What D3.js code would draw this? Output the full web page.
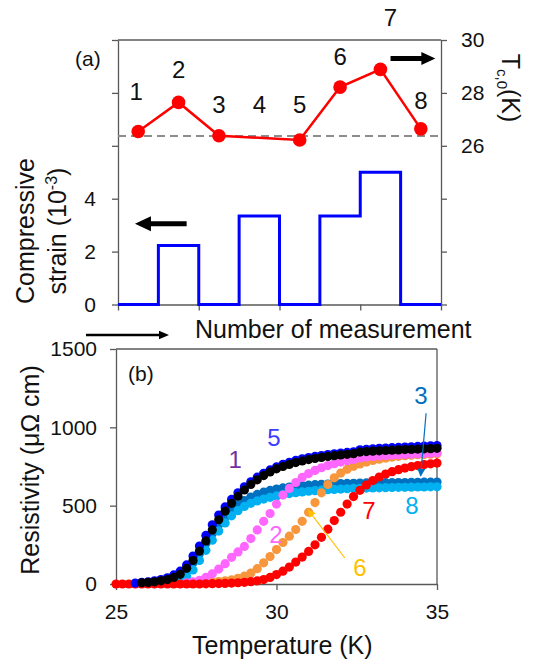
<!DOCTYPE html>
<html>
<head>
<meta charset="utf-8">
<script src="https://cdn.jsdelivr.net/npm/d3@7"></script>
<style>
  body { margin: 0; background: #fff; }
  svg { display: block; font-family: "Liberation Sans", Arial, sans-serif; }
</style>
</head>
<body>
<svg id="chart" width="533" height="666"></svg>
<script>
// ---------- Panel (a): strain steps and Tc,0 per measurement ----------
const measurements = [1, 2, 3, 4, 5, 6, 7, 8];
const strain = [0, 2.23, 0, 3.35, 0, 3.35, 5.0, 0];            // compressive strain (10^-3)
const tc0 = [26.54, 27.64, 26.38, null, 26.22, 28.22, 28.89, 26.64]; // Tc,0 (K)
const tcReference = 26.37;                                      // dashed reference level
const strainTicks = [0, 2, 4, 6, 8, 10];
const strainTickLabels = [0, 2, 4];
const tcTicks = [20, 22, 24, 26, 28, 30];
const tcTickLabels = [26, 28, 30];
const measurementTicks = [0, 2, 4, 6, 8];

// ---------- Panel (b): resistivity vs temperature ----------
const temperatures = [25.0, 25.2, 25.4, 25.6, 25.8, 26.0, 26.2, 26.4, 26.6, 26.8,
  27.0, 27.2, 27.4, 27.6, 27.8, 28.0, 28.2, 28.4, 28.6, 28.8,
  29.0, 29.2, 29.4, 29.6, 29.8, 30.0, 30.2, 30.4, 30.6, 30.8,
  31.0, 31.2, 31.4, 31.6, 31.8, 32.0, 32.2, 32.4, 32.6, 32.8,
  33.0, 33.2, 33.4, 33.6, 33.8, 34.0, 34.2, 34.4, 34.6, 34.8, 35.0];

const rho3 = [null, null, null, null, null, null,
  4, 8, 15, 28, 50, 85, 135, 195, 260, 322,
  378, 428, 470, 505, 533, 555, 572, 586, 597, 606,
  613, 619, 624, 628, 631, 634, 636, 638, 640, 641,
  642, 643, 644, 645, 646, 646, 647, 647, 648, 648,
  649, 649, 650, 650, 651];
const rho8 = [null, null, null, null, null, null,
  3, 5, 8, 14, 26, 50, 90, 150, 215, 280,
  338, 390, 435, 468, 495, 515, 530, 542, 553, 562,
  570, 577, 583, 588, 592, 596, 599, 602, 604, 606,
  608, 610, 611, 612, 613, 614, 615, 616, 617, 617,
  618, 619, 619, 620, 620];
const rho6 = [null, null, null, null, null, null, null, null, null, null, null, null,
  4, 6, 9, 12, 16, 20, 26, 36, 50, 70,
  98, 135, 175, 220, 265, 305, 348, 400, 458, 520,
  582, 635, 678, 708, 732, 751, 766, 778, 789, 797,
  804, 810, 815, 819, 822, 825, 827, 829, 831];
const rho2 = [null, null, null, null, null, null, null, null, null, null, null,
  8, 14, 24, 42, 65, 95, 130, 170, 205, 240,
  290, 345, 400, 450, 510, 568, 610, 648, 680, 705,
  725, 742, 756, 768, 778, 787, 795, 805, 810, 814,
  817, 820, 823, 825, 827, 829, 831, 833, 835, 837];
const rho7 = [0, 0, 0, 0, 0, 0, 0, 0, 0, 0, 0, 0, 0, 0,
  1, 2, 3, 4, 6, 8, 11, 15, 20, 28,
  42, 60, 82, 108, 140, 172, 208, 250, 298, 350,
  405, 458, 510, 558, 598, 632, 660, 683, 702, 717,
  730, 740, 749, 756, 762, 767, 772];
const rho5 = [null, null, null,
  6, 10, 14, 20, 28, 40, 58, 82, 122, 178,
  242, 310, 378, 440, 492, 540, 582, 620, 652, 682,
  707, 728, 747, 763, 777, 789, 799, 807, 814, 820,
  826, 831, 836, 840, 844, 857, 860, 863, 866, 868,
  870, 872, 874, 876, 878, 880, 882, 884];
const rho1 = [null, null, null, null,
  8, 10, 14, 20, 28, 42, 62, 100, 150, 210,
  275, 345, 410, 465, 515, 560, 600, 635, 665, 692,
  715, 735, 750, 763, 775, 785, 794, 801, 808, 814,
  819, 824, 828, 832, 842, 845, 848, 850, 852, 854,
  856, 858, 859, 861, 863, 864, 866];

// drawing order: back to front
const curves = [
  { id: "3", values: rho3, color: "#0070c0" },
  { id: "8", values: rho8, color: "#00b0f0" },
  { id: "6", values: rho6, color: "#f7963c" },
  { id: "2", values: rho2, color: "#ff66ff" },
  { id: "7", values: rho7, color: "#ff0000" },
  { id: "5", values: rho5, color: "#0000ff" },
  { id: "1", values: rho1, color: "#000000" }
];
const rhoTicks = [0, 500, 1000, 1500];
const tempTicks = [25, 30, 35];

// curve labels placed in data coordinates (T, rho)
const curveLabels = [
  { text: "1", T: 28.71, rho: 792, color: "#7030a0" },
  { text: "5", T: 29.92, rho: 932, color: "#3d3dff" },
  { text: "2", T: 29.98, rho: 313, color: "#ff66ff" },
  { text: "6", T: 32.60, rho: 108, color: "#ffc000" },
  { text: "7", T: 32.88, rho: 472, color: "#ff0000" },
  { text: "8", T: 34.22, rho: 504, color: "#00b0f0" },
  { text: "3", T: 34.50, rho: 1206, color: "#0070c0" }
];
const pointerArrows = [
  { from: [32.13, 166], to: [30.99, 472], color: "#ffc000" },
  { from: [34.66, 1090], to: [34.49, 690], color: "#0070c0" }
];

// ---------- drawing ----------
const svg = d3.select("#chart");
const axisColor = "#595959";
const textColor = "#111";

function styleAxis(g, fontSize) {
  g.selectAll(".domain").attr("stroke", axisColor).attr("stroke-width", 1.3);
  g.selectAll(".tick line").attr("stroke", axisColor).attr("stroke-width", 1.3);
  g.selectAll(".tick text").attr("fill", textColor).attr("font-size", fontSize)
    .attr("font-family", '"Liberation Sans", Arial, sans-serif');
}

function blockArrow(g, x1, x2, y, shaft, headLen, headH, color) {
  // horizontal arrow from x1 (tail) to x2 (tip)
  const dir = Math.sign(x2 - x1);
  const xb = x2 - dir * headLen;
  const p = d3.path();
  p.moveTo(x1, y - shaft / 2);
  p.lineTo(xb, y - shaft / 2);
  p.lineTo(xb, y - headH / 2);
  p.lineTo(x2, y);
  p.lineTo(xb, y + headH / 2);
  p.lineTo(xb, y + shaft / 2);
  p.lineTo(x1, y + shaft / 2);
  p.closePath();
  g.append("path").attr("d", p.toString()).attr("fill", color);
}

// ===== Panel (a) =====
const A = { left: 118, right: 441, top: 40, bottom: 304.5 };
const xA = d3.scaleLinear().domain([0, measurements.length]).range([A.left, A.right]);
const yStrain = d3.scaleLinear().domain([0, 10]).range([A.bottom, A.top]);
const yTc = d3.scaleLinear().domain([20, 30]).range([A.bottom, A.top]);
const gA = svg.append("g");

// frame top
gA.append("line").attr("x1", A.left).attr("x2", A.right).attr("y1", A.top).attr("y2", A.top)
  .attr("stroke", axisColor).attr("stroke-width", 1.3);

gA.append("g").attr("transform", `translate(0,${A.bottom})`)
  .call(d3.axisBottom(xA).tickValues(measurementTicks).tickFormat("").tickSize(6).tickSizeOuter(0))
  .call(g => styleAxis(g, 21));
gA.append("g").attr("transform", `translate(${A.left},0)`)
  .call(d3.axisLeft(yStrain).tickValues(strainTicks)
    .tickFormat(d => strainTickLabels.includes(d) ? d : "").tickSize(6).tickSizeOuter(0).tickPadding(16))
  .call(g => styleAxis(g, 21));
gA.append("g").attr("transform", `translate(${A.right},0)`)
  .call(d3.axisRight(yTc).tickValues(tcTicks)
    .tickFormat(d => tcTickLabels.includes(d) ? d : "").tickSize(6).tickSizeOuter(0).tickPadding(14))
  .call(g => styleAxis(g, 21));

// dashed reference level
gA.append("line")
  .attr("x1", A.left).attr("x2", A.right)
  .attr("y1", yTc(tcReference)).attr("y2", yTc(tcReference))
  .attr("stroke", "#8c8c8c").attr("stroke-width", 2).attr("stroke-dasharray", "8,5");

// strain step line
const stepPoints = strain.map((s, i) => [i, s]).concat([[strain.length, strain[strain.length - 1]]]);
gA.append("path")
  .attr("d", d3.line().x(d => xA(d[0])).y(d => yStrain(d[1])).curve(d3.curveStepAfter)(stepPoints))
  .attr("fill", "none").attr("stroke", "#0000ff").attr("stroke-width", 3);

// Tc,0 line and markers
const tcPoints = tc0.map((v, i) => ({ i, v })).filter(d => d.v !== null);
gA.append("path")
  .attr("d", d3.line().x(d => xA(d.i + 0.5)).y(d => yTc(d.v))(tcPoints))
  .attr("fill", "none").attr("stroke", "#ff0000").attr("stroke-width", 2.5);
gA.selectAll("circle.tc").data(tcPoints).join("circle")
  .attr("class", "tc")
  .attr("cx", d => xA(d.i + 0.5)).attr("cy", d => yTc(d.v)).attr("r", 6.8)
  .attr("fill", "#ff0000");

// measurement numbers (baselines in px)
const numberBaselines = [100, 78, 113, 113, 113, 65, 26, 109];
gA.selectAll("text.num").data(measurements).join("text")
  .attr("class", "num")
  .attr("x", (d, i) => xA(i + 0.5) + (i === 0 ? -2 : (i === 6 ? 10 : 0)))
  .attr("y", (d, i) => numberBaselines[i])
  .attr("text-anchor", "middle").attr("font-size", 24).attr("fill", textColor)
  .text(d => d);

gA.append("text").attr("x", 75).attr("y", 66).attr("font-size", 21).attr("fill", textColor).text("(a)");

// direction arrows
blockArrow(gA, xA(6.75), xA(7.86), yTc(29.30), 5, 14, 13, "#000");
blockArrow(gA, xA(1.70), xA(0.42), yStrain(3.05), 5, 16, 15, "#000");

// axis titles
gA.append("text").attr("transform", "translate(34,231) rotate(-90)")
  .attr("text-anchor", "middle").attr("font-size", 25).attr("fill", textColor).text("Compressive");
gA.append("text").attr("transform", "translate(66,231) rotate(-90)")
  .attr("text-anchor", "middle").attr("font-size", 25).attr("fill", textColor)
  .call(t => {
    t.append("tspan").text("strain (10");
    t.append("tspan").attr("font-size", 16).attr("dy", -9).text("-3");
    t.append("tspan").attr("dy", 9).text(")");
  });
gA.append("text").attr("transform", "translate(501.5,88) rotate(90)")
  .attr("text-anchor", "middle").attr("font-size", 25).attr("fill", textColor)
  .call(t => {
    t.append("tspan").text("T");
    t.append("tspan").attr("font-size", 15).attr("dy", 5).text("c,0");
    t.append("tspan").attr("dy", -5).text("(K)");
  });
gA.append("text").attr("x", 195).attr("y", 338).attr("font-size", 25).attr("fill", textColor)
  .text("Number of measurement");
blockArrow(gA, 86, 169, 335, 2.5, 10, 8.5, "#000");

// ===== Panel (b) =====
const B = { left: 116, right: 437, top: 349, bottom: 584 };
const xB = d3.scaleLinear().domain([25, 35]).range([B.left, B.right]);
const yB = d3.scaleLinear().domain([0, 1500]).range([B.bottom, B.top]);
const gB = svg.append("g");

gB.append("line").attr("x1", B.left).attr("x2", B.right).attr("y1", B.top).attr("y2", B.top)
  .attr("stroke", axisColor).attr("stroke-width", 1.3);
gB.append("line").attr("x1", B.right).attr("x2", B.right).attr("y1", B.top).attr("y2", B.bottom)
  .attr("stroke", axisColor).attr("stroke-width", 1.3);
gB.append("g").attr("transform", `translate(0,${B.bottom})`)
  .call(d3.axisBottom(xB).tickValues(tempTicks).tickFormat(d3.format("d"))
    .tickSize(6).tickSizeOuter(0).tickPadding(14))
  .call(g => styleAxis(g, 21));
gB.append("g").attr("transform", `translate(${B.left},0)`)
  .call(d3.axisLeft(yB).tickValues(rhoTicks).tickFormat(d3.format("d"))
    .tickSize(6).tickSizeOuter(0).tickPadding(13))
  .call(g => styleAxis(g, 21));

// data dots
curves.forEach(c => {
  const pts = temperatures.map((t, i) => ({ t, r: c.values[i] })).filter(d => d.r !== null);
  gB.append("g").selectAll("circle").data(pts).join("circle")
    .attr("cx", d => xB(d.t)).attr("cy", d => yB(d.r)).attr("r", 4.6)
    .attr("fill", c.color);
});

// pointer arrows for labels 6 and 3
const defs = svg.append("defs");
pointerArrows.forEach((a, k) => {
  defs.append("marker").attr("id", "ah" + k)
    .attr("viewBox", "0 0 10 10").attr("refX", 9).attr("refY", 5)
    .attr("markerWidth", 8).attr("markerHeight", 8).attr("markerUnits", "userSpaceOnUse")
    .attr("orient", "auto")
    .append("path").attr("d", "M0,0L10,5L0,10Z").attr("fill", a.color);
  gB.append("line")
    .attr("x1", xB(a.from[0])).attr("y1", yB(a.from[1]))
    .attr("x2", xB(a.to[0])).attr("y2", yB(a.to[1]))
    .attr("stroke", a.color).attr("stroke-width", 1.2)
    .attr("marker-end", `url(#ah${k})`);
});

gB.selectAll("text.lab").data(curveLabels).join("text")
  .attr("class", "lab")
  .attr("x", d => xB(d.T)).attr("y", d => yB(d.rho) + 8.5)
  .attr("text-anchor", "middle").attr("font-size", 24).attr("fill", d => d.color)
  .text(d => d.text);

gB.append("text").attr("x", 128).attr("y", 381).attr("font-size", 21).attr("fill", textColor).text("(b)");

gB.append("text").attr("transform", "translate(39,470) rotate(-90)")
  .attr("text-anchor", "middle").attr("font-size", 25).attr("fill", textColor)
  .text("Resistivity (μΩ cm)");
gB.append("text").attr("x", 192).attr("y", 654).attr("font-size", 25).attr("fill", textColor)
  .text("Temperature (K)");
</script>
</body>
</html>
